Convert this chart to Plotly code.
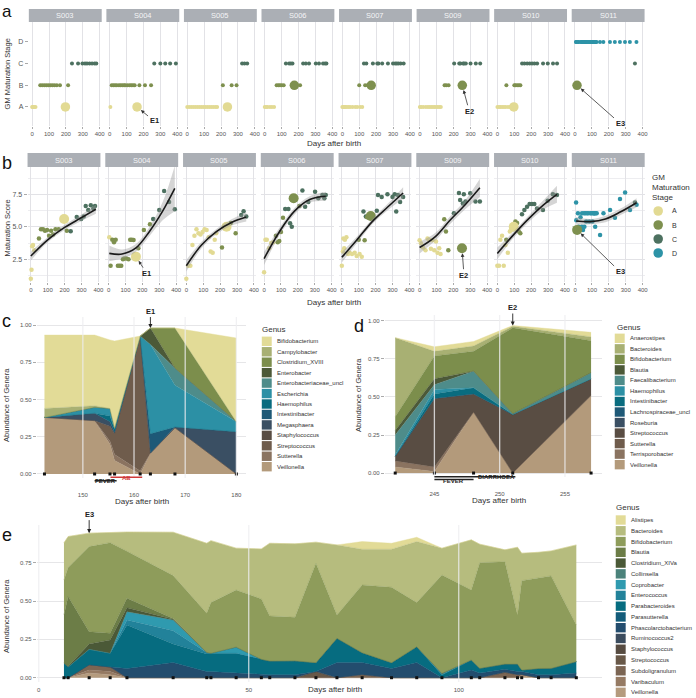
import plotly.graph_objects as go

W, H = 696, 698
FONT = "Liberation Sans, Arial, Helvetica, sans-serif"

# ---------------- panels a / b : per-subject samples ----------------
subjects = ["S003", "S004", "S005", "S006", "S007", "S009", "S010", "S011"]
stage_levels = ["A", "B", "C", "D"]
stage_colors = ["#E2DA93", "#7E904F", "#4D7160", "#2D93A7"]

S003_days = [0, 4, 8, 13, 20, 48, 60, 72, 84, 96, 108, 120, 132, 146, 165, 197, 213, 236, 272, 298, 313, 325, 340, 355, 370, 380]
S003_stage = "AAAAABBBBBBBBBBABCCCCCCCCC"
S003_score = [1.0, 1.7, 3.5, 3.6, 3.2, 4.1, 4.8, 4.8, 4.7, 4.75, 4.3, 4.7, 4.4, 4.8, 4.8, 5.6, 4.7, 4.65, 5.75, 5.6, 5.8, 6.6, 6.3, 6.65, 6.4, 6.6]
S003_event = 15

S004_days = [4, 12, 22, 32, 42, 55, 65, 75, 85, 92, 105, 118, 128, 138, 148, 162, 176, 209, 245, 264, 300, 329, 358, 392]
S004_stage = "ABBBBBBBBBBBBBBABBBCCCCC"
S004_score = [4.2, 2.0, 4.0, 3.8, 4.0, 2.0, 2.0, 2.0, 2.5, 2.55, 2.55, 2.5, 4.0, 4.0, 3.99, 2.7, 3.35, 4.75, 5.2, 5.6, 6.3, 7.75, 6.9, 6.35]
S004_event = 15

S005_days = [0, 12, 24, 36, 48, 60, 72, 84, 96, 108, 120, 132, 144, 156, 168, 177, 211, 238, 263, 292, 325, 339, 355]
S005_stage = "AAAAAAAAAAAAAAAABABBCCC"
S005_score = [1.0, 2.0, 2.0, 3.6, 4.3, 4.8, 4.5, 4.4, 4.6, 4.8, 4.75, 4.2, 3.1, 3.0, 4.0, 4.5, 3.4, 5.0, 5.3, 4.5, 5.9, 6.2, 5.8]
S005_event = 17

S006_days = [0, 8, 16, 30, 42, 55, 70, 81, 90, 100, 112, 125, 144, 154, 164, 175, 209, 227, 243, 262, 302, 321, 345, 357, 365]
S006_stage = "AAAAAABBBBBCCCCBBCCCCCCCC"
S006_score = [1.5, 4.0, 4.0, 3.35, 3.75, 3.8, 4.3, 3.8, 3.9, 4.6, 5.7, 6.37, 6.37, 5.27, 5.0, 7.2, 6.6, 7.8, 6.55, 6.9, 7.7, 7.2, 7.45, 7.2, 7.45]
S006_event = 15

S007_days = [0, 6, 9, 14, 18, 27, 37, 46, 60, 76, 88, 100, 105, 118, 128, 135, 142, 150, 160, 171, 181, 207, 214, 236, 270, 300, 313, 322, 332, 345, 363]
S007_stage = "AAAAAAAAAAABAACBCBBBCCCCCCCCCCC"
S007_score = [2.0, 3.1, 4.1, 3.35, 4.0, 4.2, 2.9, 3.0, 2.9, 3.0, 2.75, 4.0, 2.9, 2.7, 6.17, 3.97, 5.8, 5.73, 5.9, 5.83, 5.75, 6.24, 7.45, 7.3, 7.5, 7.3, 7.5, 6.17, 7.45, 6.9, 7.3]
S007_event = 19

S009_days = [0, 8, 20, 35, 47, 57, 67, 77, 87, 97, 106, 116, 124, 146, 156, 170, 203, 233, 240, 251, 256, 262, 272, 300, 331, 357]
S009_stage = "AAAAAAAAAAAAABBBCCCBCCCCCC"
S009_score = [3.97, 3.73, 3.4, 3.2, 4.1, 4.0, 3.3, 3.97, 3.2, 3.86, 3.0, 3.35, 2.9, 5.58, 4.63, 3.2, 6.04, 7.6, 7.06, 3.35, 6.8, 7.5, 6.94, 7.58, 6.94, 6.94]
S009_event = 19

S010_days = [0, 10, 18, 28, 38, 48, 53, 62, 74, 81, 87, 97, 100, 107, 117, 127, 136, 146, 160, 176, 191, 205, 219, 235, 270, 298, 329, 353]
S010_stage = "AAAAAABAAAAABBBBBCCCCCCCCCCC"
S010_score = [2.0, 2.0, 4.0, 4.3, 2.0, 3.6, 4.0, 3.0, 4.63, 4.76, 4.8, 5.0, 5.2, 5.4, 5.3, 4.63, 4.5, 5.97, 6.3, 6.55, 6.76, 6.76, 6.76, 6.4, 6.3, 7.0, 7.5, 7.45]
S010_event = 11

S011_days = [6, 7, 12, 17, 21, 32, 40, 41, 47, 53, 55, 61, 66, 71, 77, 84, 90, 96, 103, 105, 111, 114, 115, 119, 122, 128, 148, 168, 207, 236, 266, 296, 325, 355, 364]
S011_stage = "DDBDDDDDDDDDDDDDDDDDDDDDDDDDDDDDDCD"
S011_score = [6.86, 5.5, 4.76, 6.04, 5.0, 5.73, 5.0, 6.04, 4.76, 6.04, 5.0, 6.04, 5.4, 6.04, 6.04, 5.4, 6.04, 6.04, 5.4, 6.04, 6.04, 6.04, 6.04, 5.0, 6.04, 6.04, 4.37, 6.04, 6.3, 5.7, 7.14, 7.63, 6.3, 6.86, 6.7]
S011_event = 2

# smooth fits (curve and ribbon bounds)
S003_fit_days = [0, 100, 200, 300, 385]
S003_fit = [2.75, 4.0, 4.95, 5.7, 6.35]
S003_lo = [2.4, 3.8, 4.75, 5.45, 6.0]
S003_hi = [3.1, 4.2, 5.15, 5.95, 6.7]
S004_fit_days = [4, 80, 160, 240, 320, 392]
S004_fit = [2.95, 2.9, 3.35, 4.6, 6.2, 7.95]
S004_lo = [2.35, 2.55, 3.05, 4.25, 5.5, 6.2]
S004_hi = [3.55, 3.25, 3.65, 4.95, 6.9, 9.7]
S005_fit_days = [0, 90, 180, 270, 355]
S005_fit = [2.0, 3.6, 4.65, 5.35, 5.75]
S005_lo = [1.55, 3.35, 4.45, 5.1, 5.4]
S005_hi = [2.45, 3.85, 4.85, 5.6, 6.1]
S006_fit_days = [0, 90, 180, 270, 365]
S006_fit = [2.55, 4.6, 6.2, 7.1, 7.35]
S006_lo = [2.05, 4.3, 5.95, 6.85, 7.0]
S006_hi = [3.05, 4.9, 6.45, 7.35, 7.7]
S007_fit_days = [0, 90, 180, 270, 363]
S007_fit = [2.65, 4.0, 5.4, 6.5, 7.6]
S007_lo = [2.25, 3.75, 5.2, 6.25, 7.15]
S007_hi = [3.05, 4.25, 5.6, 6.75, 8.05]
S009_fit_days = [0, 90, 180, 270, 357]
S009_fit = [3.4, 4.2, 5.5, 6.7, 8.0]
S009_lo = [2.95, 3.9, 5.2, 6.35, 7.3]
S009_hi = [3.85, 4.5, 5.8, 7.05, 8.7]
S010_fit_days = [0, 90, 180, 270, 353]
S010_fit = [2.95, 4.3, 5.55, 6.65, 7.5]
S010_lo = [2.5, 4.05, 5.3, 6.3, 6.85]
S010_hi = [3.4, 4.55, 5.8, 7.0, 8.15]
S011_fit_days = [6, 90, 180, 270, 364]
S011_fit = [5.45, 5.4, 5.6, 6.15, 6.85]
S011_lo = [5.15, 5.2, 5.35, 5.9, 6.5]
S011_hi = [5.75, 5.6, 5.85, 6.4, 7.2]

# ---------------- panel c ----------------
c_days = [142.5, 152.3, 155.3, 156.2, 161.2, 163.2, 168.0, 180.0]
c_genus = ["Bifidobacterium", "Campylobacter", "Clostridium_XVIII", "Enterobacter",
           "Enterobacteriaceae_uncl", "Escherichia", "Haemophilus", "Intestinibacter",
           "Megasphaera", "Staphylococcus", "Streptococcus", "Sutterella", "Veillonella"]
c_colors = ["#E2DB97", "#A8B073", "#7C8E4C", "#4C5938", "#4E8C8A", "#2C90A5", "#096C7F",
            "#1E5977", "#3A4F63", "#594D43", "#6F5C4C", "#8A7360", "#B39A7B"]
c_Bifidobacterium = [0.493, 0.475, 0.46, 0.583, 0.0, 0.0, 0.0, 0.562]
c_Campylobacter = [0.06, 0.01, 0.0, 0.0, 0.0, 0.0, 0.0, 0.0]
c_Clostridium_XVIII = [0.0, 0.0, 0.0, 0.0, 0.0, 0.0, 0.27, 0.0]
c_Enterobacter = [0.0, 0.0, 0.0, 0.0, 0.0, 0.11, 0.0, 0.0]
c_Enterobacteriaceae_uncl = [0.0, 0.0, 0.0, 0.0, 0.0, 0.0, 0.115, 0.0]
c_Escherichia = [0.0, 0.04, 0.05, 0.01, 0.0, 0.60, 0.28, 0.067]
c_Haemophilus = [0.0, 0.0, 0.04, 0.02, 0.0, 0.0, 0.0, 0.0]
c_Intestinibacter = [0.0, 0.0, 0.0, 0.0, 0.0, 0.13, 0.0, 0.0]
c_Megasphaera = [0.0, 0.05, 0.03, 0.01, 0.0, 0.0, 0.005, 0.284]
c_Staphylococcus = [0.0, 0.0, 0.0, 0.0, 0.0, 0.0, 0.0, 0.0]
c_Streptococcus = [0.0, 0.0, 0.10, 0.14, 0.906, 0.0, 0.0, 0.0]
c_Sutterella = [0.0, 0.0, 0.02, 0.04, 0.02, 0.0, 0.0, 0.0]
c_Veillonella = [0.38, 0.358, 0.20, 0.09, 0.0, 0.14, 0.31, 0.0]
c_ticks = [150, 160, 170, 180]
c_event_day, c_event_top = 163.2, 0.98
c_fever = [152.3, 156.6]
c_ab = [155.4, 161.6]

# ---------------- panel d ----------------
d_days = [242, 245, 248, 251, 257]
d_genus = ["Anaerostipes", "Bacteroides", "Bifidobacterium", "Blautia", "Faecalibacterium",
           "Haemophilus", "Intestinibacter", "Lachnospiraceae_uncl", "Roseburia",
           "Streptococcus", "Sutterella", "Terrisporobacter", "Veillonella"]
d_colors = c_colors
d_Anaerostipes = [0.0, 0.03, 0.03, 0.005, 0.03]
d_Bacteroides = [0.52, 0.03, 0.035, 0.01, 0.025]
d_Bifidobacterium = [0.09, 0.15, 0.13, 0.565, 0.21]
d_Blautia = [0.03, 0.04, 0.0, 0.0, 0.0]
d_Faecalibacterium = [0.13, 0.03, 0.11, 0.005, 0.04]
d_Haemophilus = [0.01, 0.03, 0.0, 0.0, 0.0]
d_Intestinibacter = [0.0, 0.03, 0.04, 0.0, 0.0]
d_Lachnospiraceae_uncl = [0.0, 0.0, 0.0, 0.0, 0.0]
d_Roseburia = [0.0, 0.0, 0.0, 0.0, 0.0]
d_Streptococcus = [0.03, 0.45, 0.12, 0.385, 0.11]
d_Sutterella = [0.0, 0.0, 0.0, 0.0, 0.0]
d_Terrisporobacter = [0.04, 0.03, 0.0, 0.0, 0.0]
d_Veillonella = [0.04, 0.01, 0.40, 0.0, 0.51]
d_ticks = [245, 250, 255]
d_event_day, d_event_top = 251, 0.97
d_diarrhoea = [245, 251.2]
d_fever = [245, 248]

# ---------------- panel e ----------------
e_days = [6, 7, 12, 17, 21, 32, 40, 41, 47, 53, 55, 61, 66, 71, 77, 84, 90, 96, 103, 105, 111, 114, 115, 119, 122, 128]
e_genus = ["Alistipes", "Bacteroides", "Bifidobacterium", "Blautia", "Clostridium_XIVa",
           "Collinsella", "Coprobacter", "Enterococcus", "Parabacteroides", "Parasutterella",
           "Phascolarctobacterium", "Ruminococcus2", "Staphylococcus", "Streptococcus",
           "Subdoligranulum", "Varibaculum", "Veillonella"]
e_colors = ["#E2DB97", "#B6BC7E", "#8E9C5B", "#6C7D47", "#4B5937", "#4B827B", "#2F9AAF",
            "#22829A", "#066C80", "#135C7A", "#234D6E", "#3B4C5E", "#564B41", "#685848",
            "#7B6553", "#957A63", "#B49B7E"]
e_Alistipes = [0, 0, 0, 0, 0, 0, 0, 0, 0, 0, 0, 0, 0, 0, 0.05, 0.039, 0.028, 0, 0, 0, 0, 0, 0, 0, 0, 0]
e_Bacteroides = [0.242, 0.202, 0.088, 0.065, 0.125, 0.283, 0.457, 0.404, 0.273, 0.326, 0.474, 0.479, 0.137, 0.457, 0.233, 0.248, 0.398, 0.175, 0.327, 0.121, 0.077, 0.442, 0.179, 0.168, 0.163, 0.522]
e_Bifidobacterium = [0.228, 0.189, 0.555, 0.591, 0.307, 0.28, 0.255, 0.33, 0.372, 0.394, 0.294, 0.284, 0.649, 0.152, 0.442, 0.492, 0.288, 0.641, 0.456, 0.689, 0.668, 0.32, 0.583, 0.59, 0.603, 0.239]
e_Blautia = [0.316, 0.455, 0.08, 0.044, 0.061, 0.005, 0, 0, 0, 0, 0, 0, 0, 0, 0, 0, 0, 0, 0, 0, 0, 0, 0, 0, 0, 0]
e_Clostridium_XIVa = [0, 0.005, 0.035, 0.086, 0.027, 0.005, 0, 0, 0, 0, 0, 0, 0, 0, 0, 0, 0, 0, 0, 0, 0, 0, 0, 0, 0, 0]
e_Collinsella = [0, 0, 0, 0, 0, 0, 0, 0, 0, 0, 0, 0, 0, 0, 0, 0, 0, 0.01, 0, 0, 0, 0, 0, 0, 0, 0]
e_Coprobacter = [0, 0, 0, 0, 0.054, 0.07, 0, 0, 0.04, 0, 0, 0, 0, 0, 0, 0, 0, 0, 0, 0, 0, 0, 0, 0, 0, 0]
e_Enterococcus = [0, 0, 0, 0, 0.032, 0.086, 0.01, 0, 0, 0, 0, 0, 0, 0, 0, 0, 0, 0, 0, 0, 0, 0, 0, 0, 0, 0]
e_Parabacteroides = [0.094, 0.07, 0.10, 0.09, 0.284, 0.12, 0.115, 0.12, 0.13, 0.10, 0.089, 0.09, 0.058, 0.157, 0.063, 0.038, 0.102, 0.019, 0.066, 0.031, 0.034, 0.049, 0.01, 0.04, 0.041, 0.075]
e_Parasutterella = [0, 0, 0, 0, 0, 0, 0, 0, 0, 0, 0, 0, 0, 0, 0, 0, 0, 0, 0, 0, 0, 0, 0, 0, 0, 0]
e_Phascolarctobacterium = [0, 0, 0, 0, 0.06, 0.10, 0.04, 0.04, 0.03, 0.02, 0.02, 0.02, 0, 0.10, 0.08, 0.06, 0.10, 0, 0.05, 0.03, 0.02, 0.02, 0.02, 0.02, 0.02, 0.03]
e_Ruminococcus2 = [0, 0, 0, 0, 0, 0, 0, 0, 0, 0, 0, 0, 0, 0, 0, 0, 0, 0, 0, 0, 0, 0, 0, 0, 0, 0]
e_Staphylococcus = [0, 0, 0, 0, 0, 0, 0, 0, 0, 0, 0, 0, 0, 0, 0, 0, 0, 0, 0, 0, 0, 0, 0, 0, 0, 0]
e_Streptococcus = [0, 0, 0, 0, 0, 0, 0, 0, 0, 0, 0, 0, 0.04, 0, 0, 0, 0, 0, 0, 0, 0, 0, 0, 0, 0, 0]
e_Subdoligranulum = [0, 0, 0.035, 0.03, 0, 0, 0, 0, 0, 0, 0, 0, 0, 0, 0.02, 0, 0, 0, 0, 0, 0.035, 0.02, 0, 0, 0, 0]
e_Varibaculum = [0, 0, 0.02, 0.02, 0, 0, 0, 0, 0, 0, 0, 0, 0, 0, 0, 0, 0, 0, 0, 0, 0, 0, 0, 0, 0, 0]
e_Veillonella = [0, 0, 0.03, 0.02, 0, 0, 0, 0, 0, 0, 0, 0, 0, 0, 0, 0, 0, 0, 0, 0, 0, 0, 0.02, 0, 0, 0]
e_ticks = [0, 50, 100]
e_event_day, e_event_top = 12, 0.943

# ====================================================================
g = globals()
subj = {s: dict(days=g[s + "_days"], stage=g[s + "_stage"], score=g[s + "_score"],
                event=g[s + "_event"], fd=g[s + "_fit_days"], fit=g[s + "_fit"],
                lo=g[s + "_lo"], hi=g[s + "_hi"]) for s in subjects}
c_vals = {k: g["c_" + k] for k in c_genus}
d_vals = {k: g["d_" + k] for k in d_genus}
e_vals = {k: g["e_" + k] for k in e_genus}
scol = dict(zip(stage_levels, stage_colors))
snum = {s: i + 1 for i, s in enumerate(stage_levels)}


def xd(a, b):
    return [a / W, b / W]


def yd(top, bot):
    return [1 - bot / H, 1 - top / H]


def axn(k, kind):
    return (kind + "axis") if k == 1 else f"{kind}axis{k}"


def ref(k, kind):
    return kind if k == 1 else f"{kind}{k}"


fig = go.Figure()
layout = dict(width=W, height=H, margin=dict(l=0, r=0, t=0, b=0), autosize=False,
              paper_bgcolor="white", plot_bgcolor="white", showlegend=False,
              font=dict(family=FONT, color="#333333"))
shapes, annotations = [], []


def text(t, x, y, size=7, color="#333333", xanchor="center", yanchor="middle", angle=0):
    annotations.append(dict(text=t, x=x / W, y=1 - y / H, xref="paper", yref="paper", showarrow=False,
                            font=dict(size=size, color=color, family=FONT), xanchor=xanchor,
                            yanchor=yanchor, textangle=angle, borderpad=0))


TICKF = dict(size=6, color="#555555", family=FONT)
PW = 73.3
A_L = [29 + 78.0 * i for i in range(8)]
B_L = [27.7 + 78.2 * i for i in range(8)]
XR = [-19.5, 412]
GRID = "#E2E2E6"

for i, s in enumerate(subjects):
    D = subj[s]
    ka, kb = i + 1, i + 9
    # axes a
    layout[axn(ka, "x")] = dict(domain=xd(A_L[i], A_L[i] + PW), range=XR, anchor=ref(ka, "y"),
                                tickvals=[0, 100, 200, 300, 400], showgrid=True, gridcolor=GRID,
                                gridwidth=0.8, zeroline=False, ticks="outside", ticklen=2,
                                tickcolor="#AAAAAA", tickwidth=0.6, tickfont=TICKF)
    layout[axn(ka, "y")] = dict(domain=yd(22, 126), range=[0.12, 4.92], anchor=ref(ka, "x"),
                                tickvals=[1, 2, 3, 4], ticktext=stage_levels, showticklabels=(i == 0),
                                ticks="outside" if i == 0 else "", ticklen=3, tickcolor="#AAAAAA",
                                tickwidth=0.6, showgrid=False, zeroline=False,
                                tickfont=dict(size=7, color="#555555", family=FONT))
    # axes b
    layout[axn(kb, "x")] = dict(domain=xd(B_L[i], B_L[i] + PW), range=XR, anchor=ref(kb, "y"),
                                tickvals=[0, 100, 200, 300, 400], showgrid=True, gridcolor=GRID,
                                gridwidth=0.8, zeroline=False, ticks="outside", ticklen=2,
                                tickcolor="#AAAAAA", tickwidth=0.6, tickfont=TICKF)
    layout[axn(kb, "y")] = dict(domain=yd(167, 282), range=[0.75, 9.6], anchor=ref(kb, "x"),
                                tickvals=[2.5, 5, 7.5], ticktext=["2.5", "5.0", "7.5"],
                                showticklabels=(i == 0), ticks="outside" if i == 0 else "",
                                ticklen=3, tickcolor="#AAAAAA", tickwidth=0.6, showgrid=True,
                                gridcolor=GRID, gridwidth=0.8, zeroline=False,
                                minor=dict(tickvals=[1.25, 3.75, 6.25, 8.75], showgrid=True,
                                           gridcolor="#EDEDF0", gridwidth=0.6),
                                tickfont=dict(size=7, color="#555555", family=FONT))
    # strips
    for L, top, bot in ((A_L[i], 9, 22), (B_L[i], 153, 167)):
        shapes.append(dict(type="rect", xref="paper", yref="paper", x0=L / W, x1=(L + PW) / W,
                           y0=1 - bot / H, y1=1 - top / H, fillcolor="#ABAFB5", line=dict(width=0),
                           layer="below"))
        text(s, L + PW / 2, (top + bot) / 2, size=7.5, color="#F4F4F6")

    ev = D["event"]
    idx = [j for j in range(len(D["days"])) if j != ev]
    # panel a points
    fig.add_trace(go.Scatter(x=[D["days"][j] for j in idx], y=[snum[D["stage"][j]] for j in idx],
                             mode="markers", xaxis=ref(ka, "x"), yaxis=ref(ka, "y"),
                             marker=dict(size=4, color=[scol[D["stage"][j]] for j in idx],
                                         line=dict(width=0)), cliponaxis=False))
    fig.add_trace(go.Scatter(x=[D["days"][ev]], y=[snum[D["stage"][ev]]], mode="markers",
                             xaxis=ref(ka, "x"), yaxis=ref(ka, "y"),
                             marker=dict(size=9.5, color=scol[D["stage"][ev]], line=dict(width=0))))
    # panel b points
    fig.add_trace(go.Scatter(x=[D["days"][j] for j in idx], y=[D["score"][j] for j in idx],
                             mode="markers", xaxis=ref(kb, "x"), yaxis=ref(kb, "y"),
                             marker=dict(size=4.5, color=[scol[D["stage"][j]] for j in idx],
                                         line=dict(width=0)), cliponaxis=False))
    fig.add_trace(go.Scatter(x=[D["days"][ev]], y=[D["score"][ev]], mode="markers",
                             xaxis=ref(kb, "x"), yaxis=ref(kb, "y"),
                             marker=dict(size=10, color=scol[D["stage"][ev]], line=dict(width=0))))
    # smooth ribbon + line
    fig.add_trace(go.Scatter(x=D["fd"], y=D["lo"], mode="lines", line=dict(width=0, shape="spline"),
                             xaxis=ref(kb, "x"), yaxis=ref(kb, "y"), hoverinfo="skip"))
    fig.add_trace(go.Scatter(x=D["fd"], y=D["hi"], mode="lines", line=dict(width=0, shape="spline"),
                             fill="tonexty", fillcolor="rgba(150,150,150,0.40)",
                             xaxis=ref(kb, "x"), yaxis=ref(kb, "y"), hoverinfo="skip"))
    fig.add_trace(go.Scatter(x=D["fd"], y=D["fit"], mode="lines",
                             line=dict(width=1.6, color="#1A1A1A", shape="spline"),
                             xaxis=ref(kb, "x"), yaxis=ref(kb, "y")))

# event arrows in a and b
ev_arrows = [("S004", "E1", 17, 14, 11, 17), ("S009", "E2", 7, 26, 2, 27), ("S011", "E3", 43, 38, 43, 42)]
for s, lab, axa, aya, axb, ayb in ev_arrows:
    i = subjects.index(s)
    D = subj[s]
    ev = D["event"]
    for k, yv, ax_, ay_ in ((i + 1, snum[D["stage"][ev]], axa, aya), (i + 9, D["score"][ev], axb, ayb)):
        annotations.append(dict(x=D["days"][ev], y=yv, xref=ref(k, "x"), yref=ref(k, "y"),
                                text="<b>" + lab + "</b>", showarrow=True, ax=ax_, ay=ay_,
                                arrowhead=2, arrowsize=0.9, arrowwidth=0.8, arrowcolor="#333333",
                                standoff=5, font=dict(size=7.5, color="#222222", family=FONT)))


# ---------------- stacked area panels ----------------
def area_panel(k, days, genus, vals, colors, xdom_px, ydom_px, xr, yr, ticks, group, standoff):
    layout[axn(k, "x")] = dict(domain=xd(*xdom_px), range=xr, anchor=ref(k, "y"), tickvals=ticks,
                               showgrid=False, zeroline=False, ticks="", tickfont=TICKF,
                               ticklabelstandoff=standoff)
    layout[axn(k, "y")] = dict(domain=yd(*ydom_px), range=yr, anchor=ref(k, "x"),
                               tickvals=[0, 0.25, 0.5, 0.75, 1.0],
                               ticktext=["0.00", "0.25", "0.50", "0.75", "1.00"],
                               showgrid=True, gridcolor="#E6E6E8", gridwidth=0.8, zeroline=False,
                               ticks="outside", ticklen=3, tickcolor="#AAAAAA", tickwidth=0.6,
                               tickfont=TICKF)
    for gname, col in list(zip(genus, colors))[::-1]:
        fig.add_trace(go.Scatter(x=days, y=vals[gname], mode="lines", stackgroup=group,
                                 line=dict(width=0.4, color=col), fillcolor=col,
                                 xaxis=ref(k, "x"), yaxis=ref(k, "y")))
    for t in ticks:
        shapes.append(dict(type="line", xref=ref(k, "x"), yref=ref(k, "y") + " domain", x0=t, x1=t,
                           y0=0, y1=1, line=dict(color="rgba(238,238,240,0.8)", width=1.3),
                           layer="above"))
    fig.add_trace(go.Scatter(x=days, y=[0] * len(days), mode="markers", cliponaxis=False,
                             marker=dict(symbol="square", size=3, color="#111111"),
                             xaxis=ref(k, "x"), yaxis=ref(k, "y")))


area_panel(17, c_days, c_genus, c_vals, c_colors, (37, 247), (317, 478), [141.0, 181.8], [-0.027, 1.054], c_ticks, "c", 12)
area_panel(18, d_days, d_genus, d_vals, d_colors, (387, 605), (315, 477), [241.2, 257.8], [-0.026, 1.039], d_ticks, "d", 12)
area_panel(19, e_days, e_genus, e_vals, e_colors, (37, 605), (525, 682), [-0.47, 134.0], [-0.028, 0.996], e_ticks, "e", 3)

for k, xv, yv, lab, ay in ((17, c_event_day, c_event_top, "E1", -17), (18, d_event_day, d_event_top, "E2", -18),
                           (19, e_event_day, e_event_top, "E3", -19)):
    annotations.append(dict(x=xv, y=yv, xref=ref(k, "x"), yref=ref(k, "y"), text="<b>" + lab + "</b>",
                            showarrow=True, ax=0, ay=ay, arrowhead=2, arrowsize=0.9, arrowwidth=0.9,
                            arrowcolor="#222222", font=dict(size=7.5, color="#222222", family=FONT)))


# event bars under c and d
def bar(k, x0, x1, ypx, color):
    shapes.append(dict(type="line", xref=ref(k, "x"), yref="paper", x0=x0, x1=x1, y0=1 - ypx / H,
                       y1=1 - ypx / H, line=dict(color=color, width=1.5)))


bar(17, c_fever[0], c_fever[1], 480.7, "#222222")
bar(17, c_ab[0], c_ab[1], 477.3, "#D03A3A")
annotations.append(dict(x=sum(c_fever) / 2, y=1 - 485.5 / H, xref="x17", yref="paper", text="<b>FEVER</b>",
                        showarrow=False, font=dict(size=6, color="#222222", family=FONT)))
annotations.append(dict(x=sum(c_ab) / 2, y=1 - 482.5 / H, xref="x17", yref="paper", text="<b>AB</b>",
                        showarrow=False, font=dict(size=6, color="#D03A3A", family=FONT)))
bar(18, d_diarrhoea[0], d_diarrhoea[1], 476.7, "#222222")
bar(18, d_fever[0], d_fever[1], 479.5, "#222222")
annotations.append(dict(x=d_fever[1] + 0.2, y=1 - 481.5 / H, xref="x18", yref="paper", text="<b>DIARRHOEA</b>",
                        showarrow=False, xanchor="left", font=dict(size=6, color="#222222", family=FONT)))
annotations.append(dict(x=sum(d_fever) / 2, y=1 - 486 / H, xref="x18", yref="paper", text="<b>FEVER</b>",
                        showarrow=False, font=dict(size=6, color="#222222", family=FONT)))


# ---------------- legends ----------------
def genus_legend(title, tx, ty, genus, colors, sx, y0, step):
    text(title, tx, ty, size=8, xanchor="left")
    for j, (gname, col) in enumerate(zip(genus, colors)):
        yc = y0 + step * j
        shapes.append(dict(type="rect", xref="paper", yref="paper", x0=sx / W, x1=(sx + 10) / W,
                           y0=1 - (yc + 4.7) / H, y1=1 - (yc - 4.7) / H, fillcolor=col,
                           line=dict(width=0)))
        text(gname, sx + 14, yc, size=6, xanchor="left", color="#333333")


genus_legend("Genus", 263, 330, c_genus, c_colors, 263.3, 341.3, 10.45)
genus_legend("Genus", 620, 327, d_genus, d_colors, 618.3, 338.3, 10.53)
genus_legend("Genus", 619, 507.5, e_genus, e_colors, 619.3, 520, 10.77)

for j, line in enumerate(["GM", "Maturation", "Stage"]):
    text(line, 655, 178 + 9.5 * j, size=8, xanchor="left")
for j, (st, col) in enumerate(zip(stage_levels, stage_colors)):
    yc = 211 + 14 * j
    shapes.append(dict(type="circle", xref="paper", yref="paper", x0=(662 - 4.8) / W, x1=(662 + 4.8) / W,
                       y0=1 - (yc + 4.8) / H, y1=1 - (yc - 4.8) / H, fillcolor=col, line=dict(width=0)))
    text(st, 675, yc, size=7, xanchor="left")

# ---------------- titles / labels ----------------
text("a", 1, 0.5, size=17, xanchor="left", yanchor="top", color="#111111")
for lab, x, y in (("b", 1, 163), ("c", 1, 321), ("d", 355, 326), ("e", 1, 535)):
    text(lab, x, y, size=18, xanchor="left", color="#111111")
text("GM Maturation Stage", 7.5, 74, size=7.5, angle=-90)
text("Maturation Score", 7.5, 228, size=7.5, angle=-90)
text("Abundance of Genera", 7, 405, size=7.5, angle=-90)
text("Abundance of Genera", 360, 395, size=7.5, angle=-90)
text("Abundance of Genera", 6, 616, size=7.5, angle=-90)
text("Days after birth", 336, 143, size=8)
text("Days after birth", 336, 302, size=8)
text("Days after birth", 143, 501, size=8)
text("Days after birth", 502, 500, size=8)
text("Days after birth", 337, 689, size=8)

layout["shapes"] = shapes
layout["annotations"] = annotations
fig.update_layout(**layout)
fig.write_html("out.html", config={"displayModeBar": False},
               post_script="document.body.style.margin='0px';document.body.style.padding='0px';"
                           "document.body.style.overflow='hidden';")
